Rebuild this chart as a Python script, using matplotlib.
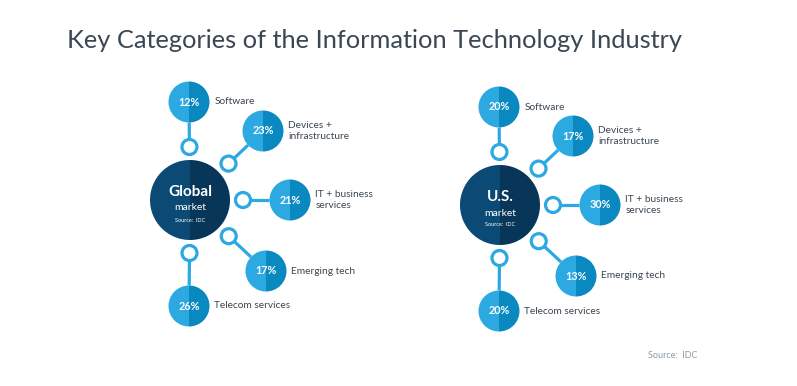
import numpy as np
import matplotlib.pyplot as plt
from matplotlib.patches import Wedge, Circle

plt.rcParams['font.family'] = ['Lato', 'DejaVu Sans']

# data
categories = ["Software", "Devices +\ninfrastructure", "IT + business\nservices",
              "Emerging tech", "Telecom services"]
global_share = [12, 23, 21, 17, 26]
us_share = [20, 17, 30, 13, 20]
markets = ["Global", "U.S."]
source = "Source:  IDC"

# layout (pixels)
hub_centers = [(190, 200), (500, 205)]
hub_r = 40
sat_r = 20.5
sat_offsets = [(-1, -98), (73, -69), (100, 0), (76, 71), (-1, 106)]
ring_dist = 53
ring_r = 7.5

dark_l, dark_r = "#0c4a76", "#073658"
light_l, light_r = "#2ca9e1", "#0a89c1"
text_col = "#3b4650"

fig = plt.figure(figsize=(7.97, 3.86), dpi=100)
ax = fig.add_axes([0, 0, 1, 1])
ax.set_xlim(0, 797)
ax.set_ylim(386, 0)
ax.axis("off")

ax.text(67, 40, "Key Categories of the Information Technology Industry",
        fontsize=18.3, color="#3a4754", va="center", ha="left")

for (cx, cy), name, shares in zip(hub_centers, markets, [global_share, us_share]):
    ax.add_patch(Wedge((cx, cy), hub_r, 90, 270, color=dark_l, lw=0))
    ax.add_patch(Wedge((cx, cy), hub_r, -90, 90, color=dark_r, lw=0))
    ax.text(cx, cy - 8, name, color="white", fontsize=11, fontweight="bold",
            ha="center", va="center")
    ax.text(cx, cy + 8, "market", color="white", fontsize=7.5, ha="center", va="center")
    ax.text(cx, cy + 20, source, color="white", fontsize=4, ha="center", va="center")

    for (dx, dy), cat, val in zip(sat_offsets, categories, shares):
        sx, sy = cx + dx, cy + dy
        d = np.hypot(dx, dy)
        ux, uy = dx / d, dy / d
        rx, ry = cx + ux * ring_dist, cy + uy * ring_dist
        ax.plot([rx + ux * ring_r, sx - ux * sat_r], [ry + uy * ring_r, sy - uy * sat_r],
                color=light_l, lw=2.3, solid_capstyle="butt")
        ax.add_patch(Circle((rx, ry), ring_r, fill=False, ec=light_l, lw=2.3))
        ax.add_patch(Wedge((sx, sy), sat_r, 90, 270, color=light_l, lw=0))
        ax.add_patch(Wedge((sx, sy), sat_r, -90, 90, color=light_r, lw=0))
        ax.text(sx, sy, f"{val}%", color="white", fontsize=7.8, fontweight="bold",
                ha="center", va="center")
        ax.text(sx + sat_r + 5, sy, cat, color=text_col, fontsize=7.3,
                ha="left", va="center", linespacing=1.3)

ax.text(648, 355, "Source:  IDC", color="#8c9aa8", fontsize=6.5, ha="left", va="center")

fig.savefig("out.png", dpi=100)
